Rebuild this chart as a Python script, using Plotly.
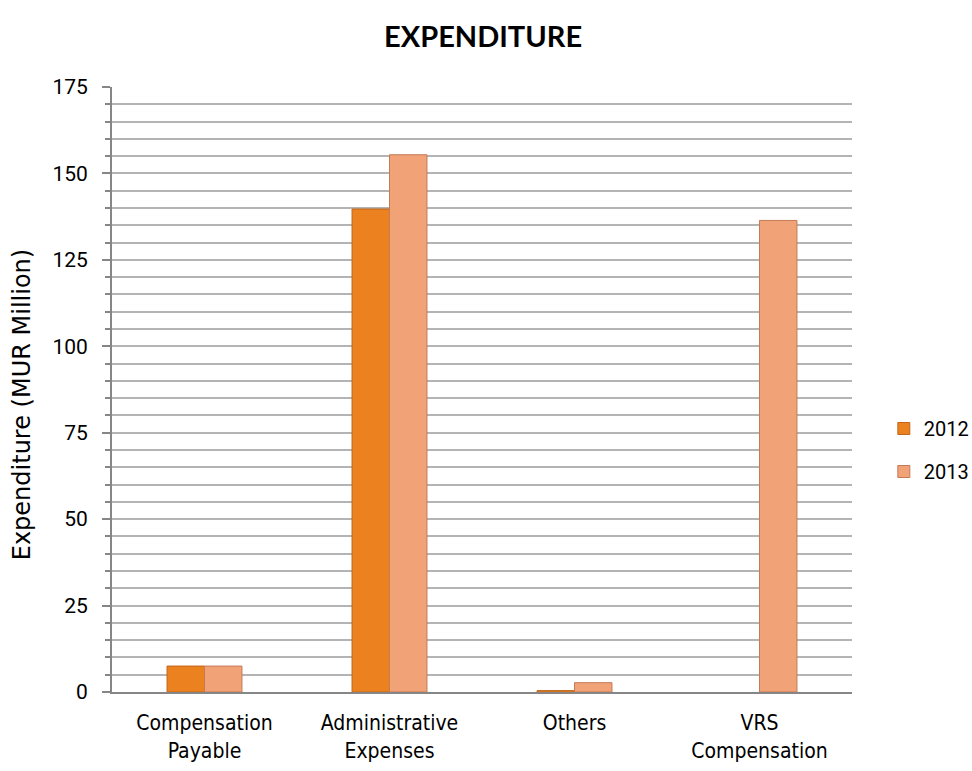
import plotly.graph_objects as go

categories = ["Compensation<br>Payable", "Administrative<br>Expenses", "Others", "VRS<br>Compensation"]
values_2012 = [7.5, 139.7, 0.4, None]
values_2013 = [7.5, 155.4, 2.7, 136.4]
y_ticks = [0, 25, 50, 75, 100, 125, 150, 175]
y_title = "Expenditure (MUR Million)"

fig = go.Figure()
fig.add_trace(go.Bar(
    x=categories, y=values_2012, name="2012", legendgroup="a",
    marker=dict(color="#EC821F", line=dict(color="#C0661A", width=1)),
))
fig.add_trace(go.Bar(
    x=categories, y=values_2013, name="2013", legendgroup="b",
    marker=dict(color="#F2A277", line=dict(color="#C47A55", width=1)),
))

fig.update_layout(
    width=972, height=771,
    margin=dict(l=112, r=120, t=87, b=79, autoexpand=False),
    paper_bgcolor="white", plot_bgcolor="white",
    barmode="group", bargap=0.595, bargroupgap=0,
    title=dict(text="<b>EXPENDITURE</b>", x=0.497, xanchor="center", y=0.952, yanchor="middle",
               font=dict(family="Lato", size=29, color="black")),
    legend=dict(x=1.043, y=0.40, xanchor="left", yanchor="middle",
                font=dict(family="Roboto", size=20, color="black"),
                tracegroupgap=14, itemwidth=30),
    font=dict(family="Roboto", color="black"),
    annotations=[dict(text=y_title, textangle=-90, xref="paper", yref="paper",
                      x=-0.1216, y=0.474, xanchor="center", yanchor="middle", showarrow=False,
                      font=dict(family="DejaVu Sans", size=24, color="black"))],
)
fig.update_xaxes(
    showline=True, linecolor="#868686", linewidth=2,
    ticks="", ticklabelstandoff=11,
    tickfont=dict(family="DejaVu Sans Condensed, Lato", size=21, color="black", weight=500),
    showgrid=False,
)
fig.update_yaxes(
    range=[0, 175], tickvals=y_ticks, ticktext=[str(v) for v in y_ticks],
    showline=True, linecolor="#868686", linewidth=2,
    ticks="outside", ticklen=8, tickcolor="#868686", tickwidth=2,
    ticklabelstandoff=10,
    showgrid=True, gridcolor="#B4B4B4", gridwidth=2,
    minor=dict(dtick=5, tick0=0, ticks="outside", ticklen=5, tickcolor="#868686",
               showgrid=True, gridcolor="#B4B4B4", gridwidth=2),
    tickfont=dict(family="Roboto", size=21, color="black"),
    zeroline=False,
)

fig.write_html("out.html")
